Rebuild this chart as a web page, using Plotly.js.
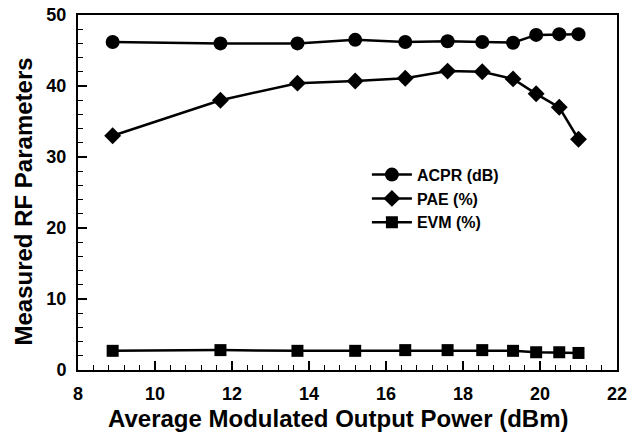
<!DOCTYPE html>
<html>
<head>
<meta charset="utf-8">
<script src="https://cdn.plot.ly/plotly-3.0.1.min.js"></script>
<style>html,body{margin:0;padding:0;background:#fff;}#chart{width:632px;height:436px;}</style>
</head>
<body>
<div id="chart"></div>
<script>
const power = [8.9, 11.7, 13.7, 15.2, 16.5, 17.6, 18.5, 19.3, 19.9, 20.5, 21.0];
const acpr = [46.2, 46.0, 46.0, 46.5, 46.2, 46.3, 46.2, 46.1, 47.2, 47.3, 47.3];
const pae = [33.0, 38.0, 40.4, 40.7, 41.1, 42.1, 42.0, 41.0, 38.9, 37.0, 32.5];
const evm = [2.7, 2.8, 2.7, 2.7, 2.8, 2.8, 2.8, 2.7, 2.5, 2.5, 2.4];
const seriesNames = ["ACPR (dB)", "PAE (%)", "EVM (%)"];
const xTitle = 'Average Modulated Output Power (dBm)';
const yTitle = 'Measured RF Parameters';

const FONT = "Arial, 'Liberation Sans', sans-serif";
const mk = (y, name, symbol, size) => ({
  x: power, y: y, name: name, type: 'scatter', mode: 'lines+markers',
  line: {color: '#000', width: 2.5},
  marker: {symbol: symbol, size: size, color: '#000'}
});
const data = [
  mk(acpr, seriesNames[0], 'circle', 14),
  mk(pae, seriesNames[1], 'diamond', 13),
  mk(evm, seriesNames[2], 'square', 12)
];
const axisCommon = {
  showgrid: false, zeroline: false, showline: true, linecolor: '#000', linewidth: 2,
  mirror: true, ticks: 'inside', ticklen: 9, tickwidth: 1.5, tickcolor: '#000',
  ticklabelstandoff: 6,
  tickfont: {family: FONT, size: 18, color: '#000', weight: 'bold'}
};
const titleFont = {family: FONT, size: 24, color: '#000', weight: 'bold'};
const layout = {
  width: 632, height: 436,
  margin: {l: 78, r: 15, t: 15, b: 66},
  paper_bgcolor: '#fff', plot_bgcolor: '#fff',
  font: {family: FONT, color: '#000'},
  showlegend: true,
  legend: {x: 0.536, y: 0.598, xanchor: 'left', yanchor: 'top', bgcolor: 'rgba(0,0,0,0)',
    font: {family: FONT, size: 16, color: '#000', weight: 'bold'}, tracegroupgap: 0, itemwidth: 40},
  xaxis: Object.assign({}, axisCommon, {
    range: [8, 22], dtick: 2, tick0: 8,
    minor: {dtick: 0.4, tick0: 8, ticks: 'inside', ticklen: 5, tickwidth: 1.2, tickcolor: '#000'}
  }),
  yaxis: Object.assign({}, axisCommon, {
    range: [0, 50], dtick: 10, tick0: 0,
    minor: {dtick: 2, tick0: 0, ticks: 'inside', ticklen: 5, tickwidth: 1.2, tickcolor: '#000'}
  }),
  annotations: [
    {text: xTitle, xref: 'paper', yref: 'paper', x: 0.4824, y: -0.138,
     xanchor: 'center', yanchor: 'middle', showarrow: false, font: titleFont},
    {text: yTitle, xref: 'paper', yref: 'paper', x: 0, xshift: -54, y: 0.4746,
     xanchor: 'center', yanchor: 'middle', textangle: -90, showarrow: false, font: titleFont}
  ]
};
Plotly.newPlot('chart', data, layout, {displayModeBar: false, staticPlot: true});
</script>
</body>
</html>
